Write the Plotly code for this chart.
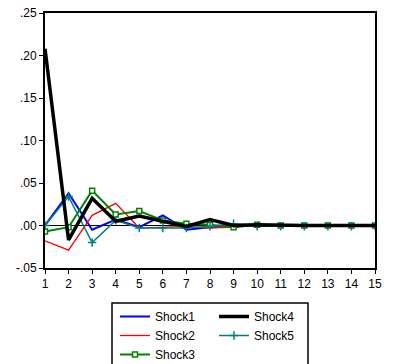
import plotly.graph_objects as go

periods = list(range(1, 16))
shock1 = [0.000, 0.038, -0.005, 0.007, -0.002, 0.012, -0.005, -0.002, 0.001, 0.001, 0.000, 0.000, 0.000, 0.000, 0.000]
shock2 = [-0.018, -0.029, 0.012, 0.026, -0.003, -0.002, -0.001, -0.003, -0.002, 0.001, 0.000, 0.000, 0.000, 0.000, 0.000]
shock3 = [-0.007, -0.002, 0.041, 0.013, 0.017, 0.006, 0.002, 0.001, -0.002, 0.001, 0.000, 0.000, 0.000, 0.000, 0.000]
shock4 = [0.208, -0.017, 0.032, 0.005, 0.011, 0.005, -0.001, 0.007, 0.000, 0.001, 0.000, 0.000, 0.000, 0.000, 0.000]
shock5 = [0.000, 0.034, -0.020, 0.006, -0.003, -0.003, -0.003, -0.001, 0.002, -0.001, -0.001, -0.001, -0.001, -0.001, -0.001]

ytick_vals = [-0.05, 0.00, 0.05, 0.10, 0.15, 0.20, 0.25]
ytick_text = ["-.05", ".00", ".05", ".10", ".15", ".20", ".25"]

FONT = "Liberation Sans, Arial, sans-serif"
W, H = 395, 364

fig = go.Figure()
fig.add_trace(go.Scatter(x=periods, y=shock1, name="Shock1", mode="lines",
                         line=dict(color="#0000FF", width=2), legend="legend"))
fig.add_trace(go.Scatter(x=periods, y=shock2, name="Shock2", mode="lines",
                         line=dict(color="#FF0000", width=1.3), legend="legend"))
fig.add_trace(go.Scatter(x=periods, y=shock3, name="Shock3", mode="lines+markers",
                         line=dict(color="#008000", width=2),
                         marker=dict(symbol="square", size=5, color="white",
                                     line=dict(color="#008000", width=1.5)),
                         legend="legend"))
fig.add_trace(go.Scatter(x=periods, y=shock5, name="Shock5", mode="lines+markers",
                         line=dict(color="#008080", width=1.5),
                         marker=dict(symbol="cross-thin", size=6,
                                     line=dict(color="#008080", width=1.5)),
                         legend="legend2"))
fig.add_trace(go.Scatter(x=periods, y=shock4, name="Shock4", mode="lines",
                         line=dict(color="black", width=3.5), legend="legend2"))

fig.update_layout(
    width=W, height=H,
    margin=dict(l=45, r=20, t=13, b=96, autoexpand=False),
    paper_bgcolor="white", plot_bgcolor="white",
    font=dict(family=FONT, size=12, color="black"),
    legend=dict(xref="container", yref="container",
                x=115 / W, xanchor="left", y=1 - 302 / H, yanchor="top",
                bgcolor="rgba(0,0,0,0)", borderwidth=0, traceorder="normal",
                font=dict(family=FONT, size=12, color="black")),
    legend2=dict(xref="container", yref="container",
                 x=214 / W, xanchor="left", y=1 - 302 / H, yanchor="top",
                 bgcolor="rgba(0,0,0,0)", borderwidth=0, traceorder="reversed",
                 font=dict(family=FONT, size=12, color="black")),
    shapes=[dict(type="rect", xref="paper", yref="paper",
                 x0=(112 - 45) / 330, x1=(308 - 45) / 330,
                 y0=(268 - 375) / 255, y1=(268 - 303) / 255,
                 line=dict(color="black", width=1.5), fillcolor="rgba(0,0,0,0)")],
)
fig.update_xaxes(range=[1, 15], tickvals=periods, ticktext=[str(p) for p in periods],
                 showline=True, linecolor="black", linewidth=2, mirror=True,
                 ticks="outside", ticklen=4, tickcolor="black", tickwidth=1,
                 showgrid=False, zeroline=False, automargin=False,
                 tickfont=dict(family=FONT, size=12, color="black"))
fig.update_yaxes(range=[-0.05, 0.25], tickvals=ytick_vals, ticktext=ytick_text,
                 showline=True, linecolor="black", linewidth=2, mirror=True,
                 ticks="outside", ticklen=4, tickcolor="black", tickwidth=1,
                 showgrid=False, zeroline=True, zerolinecolor="black", zerolinewidth=1,
                 automargin=False,
                 tickfont=dict(family=FONT, size=12, color="black"))

fig.write_html("out.html")
